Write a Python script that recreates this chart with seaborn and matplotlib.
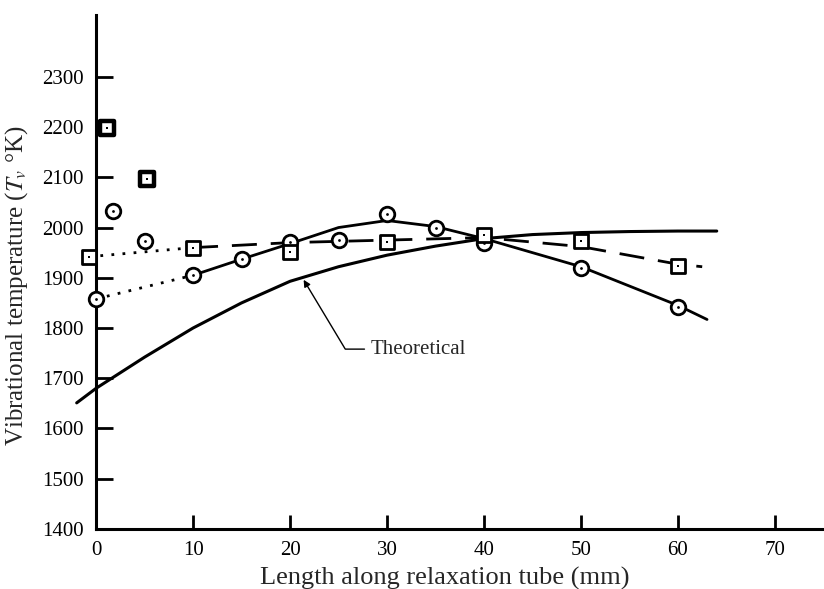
import numpy as np
import pandas as pd
import seaborn as sns
from matplotlib import pyplot as plt

# data
circ_x = [0, 1.7, 5, 10, 15, 20, 25, 30, 35, 40, 50, 60]
circ_y = [1858, 2033, 1974, 1906, 1938, 1971, 1976, 2027, 2000, 1970, 1920, 1842]

sq_x = [-0.7, 1.1, 5.3, 10, 20, 30, 40, 50, 60]
sq_y = [1942, 2199, 2097, 1960, 1952, 1972, 1986, 1974, 1924]
sq_bold = [False, True, True, False, False, False, False, False, False]

# fitted curves drawn through the points (as read)
circ_fit_x = [10, 15, 20, 25, 30, 35, 40, 50, 60, 63]
circ_fit_y = [1905, 1937, 1968, 2000, 2014, 2002, 1978, 1922, 1845, 1817]
circ_dot_x = [0, 10]
circ_dot_y = [1858, 1905]

sq_fit_x = [10, 20, 30, 40, 50, 60, 62.5]
sq_fit_y = [1960, 1970, 1975, 1980, 1962, 1927, 1922]
sq_dot_x = [-0.7, 10]
sq_dot_y = [1942, 1960]

theo_x = [-2, 0, 5, 10, 15, 20, 25, 30, 35, 40, 45, 50, 55, 60, 64]
theo_y = [1651, 1680, 1742, 1800, 1850, 1893, 1922, 1945, 1963, 1978, 1986, 1990, 1992, 1993, 1993]

sns.set_style('ticks')
plt.rcParams['font.family'] = ['Liberation Serif', 'DejaVu Serif']
plt.rcParams['mathtext.fontset'] = 'stix'

fig = plt.figure(figsize=(8.24, 5.89), dpi=100)
ax = fig.add_axes([0.0813, 0.1019, 0.918, 0.8726])

sns.lineplot(x=theo_x, y=theo_y, ax=ax, color='black', lw=2.2, sort=False)
sns.lineplot(x=circ_fit_x, y=circ_fit_y, ax=ax, color='black', lw=2.0, sort=False)
sns.lineplot(x=sq_fit_x, y=sq_fit_y, ax=ax, color='black', lw=2.0, sort=False,
             linestyle=(0, (9, 5)))
ax.plot(circ_dot_x, circ_dot_y, color='black', lw=2.0, linestyle=(0, (1, 3)))
ax.plot(sq_dot_x, sq_dot_y, color='black', lw=2.0, linestyle=(0, (1, 3)))

# circles
sns.scatterplot(x=circ_x, y=circ_y, ax=ax, marker='o', s=110, color='white',
                edgecolor='black', linewidth=2.0, zorder=5)
sns.scatterplot(x=circ_x, y=circ_y, ax=ax, marker='o', s=4, color='black',
                linewidth=0, zorder=6)

# squares
sq = pd.DataFrame({'x': sq_x, 'y': sq_y, 'bold': sq_bold})
for bold, grp in sq.groupby('bold'):
    sns.scatterplot(data=grp, x='x', y='y', ax=ax, marker='s', s=110, color='white',
                    edgecolor='black', linewidth=3.2 if bold else 2.0, zorder=5)
sns.scatterplot(x=sq_x, y=sq_y, ax=ax, marker='s', s=4, color='black',
                linewidth=0, zorder=6)

ax.annotate('Theoretical', xy=(21.4, 1896), xytext=(28.3, 1758),
            fontsize=15, ha='left', va='center',
            arrowprops=dict(arrowstyle='-|>', color='black', lw=1.0,
                            connectionstyle='angle,angleA=0,angleB=121,rad=0',
                            relpos=(0, 0.5), shrinkA=2, shrinkB=0,
                            mutation_scale=10))

ax.set_xlim(-3, 75)
ax.set_ylim(1400, 2423)
ax.set_xticks(range(0, 71, 10))
ax.set_yticks(range(1400, 2301, 100))
ax.tick_params(axis='both', direction='in', labelsize=15, width=2, colors='black')
ax.tick_params(axis='y', length=12, pad=9)
ax.tick_params(axis='x', length=10, pad=9)

sns.despine(ax=ax)
ax.spines['left'].set_position(('data', 0))
ax.spines['bottom'].set_bounds(0, 75)
for s in ['left', 'bottom']:
    ax.spines[s].set_linewidth(2.2)
    ax.spines[s].set_color('black')

ax.set_xlabel('Length along relaxation tube (mm)', fontsize=19)
ax.set_ylabel(r'Vibrational temperature ($T_v$ °K)', fontsize=18)
ax.yaxis.set_label_coords(-0.049, 0.473)
ax.xaxis.set_label_coords(0.5, -0.074)

fig.savefig('out.png', dpi=100)
